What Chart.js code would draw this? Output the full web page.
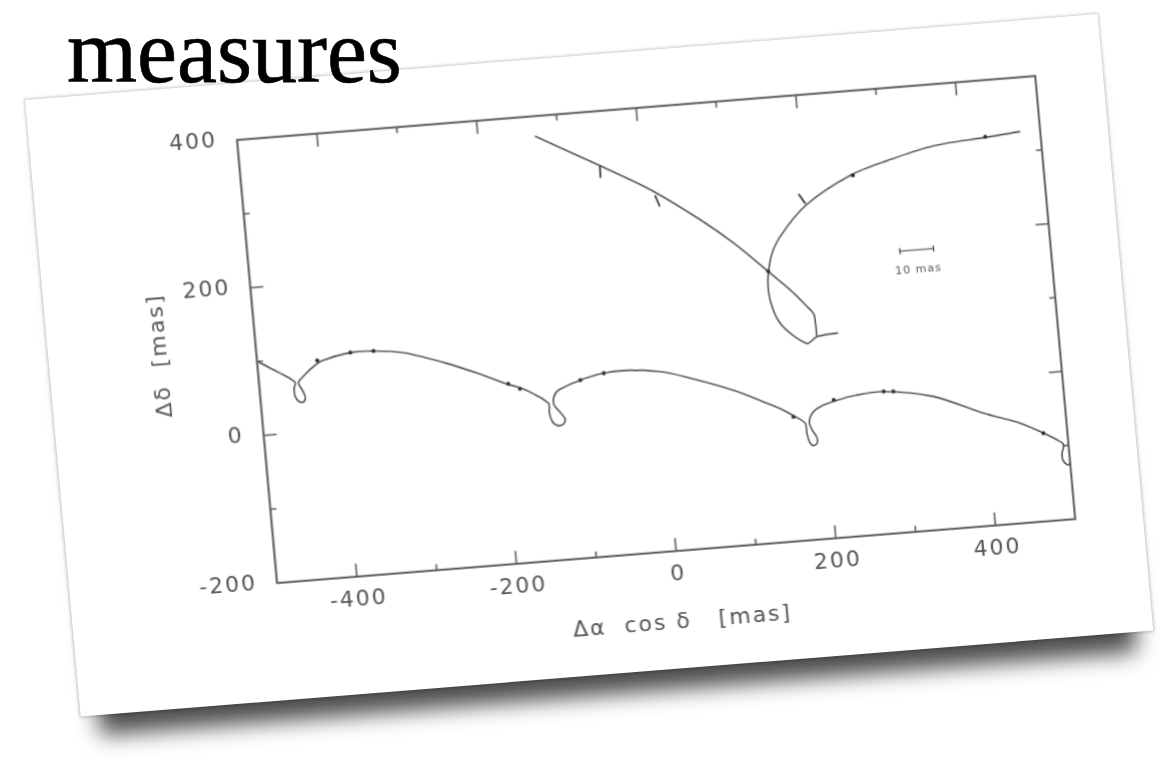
<!DOCTYPE html>
<html><head><meta charset="utf-8">
<script src="https://cdn.jsdelivr.net/npm/chart.js@4.4.1/dist/chart.umd.min.js"></script>
<style>
html,body{margin:0;padding:0;background:#fff;width:1160px;height:763px;overflow:hidden;}
#title{position:absolute;left:67px;top:7px;font:90px/1 "Liberation Serif","Times New Roman",serif;color:#000;-webkit-text-stroke:0.7px #000;z-index:2;white-space:nowrap;}
#card{position:absolute;left:25px;top:100px;width:1075px;height:618px;background:#fff;transform-origin:0 0;transform:matrix(0.9977,-0.08,0.0901,0.9977,0,0);box-shadow:0 0 3px 1px rgba(0,0,0,0.22),0 38px 22px -18px rgba(0,0,0,0.7);}
canvas{display:block;}
</style></head><body>
<div id="title">measures</div>
<div id="card"><canvas id="c" width="1075" height="618"></canvas></div>
<script>
// ---- data (mas) ----
const lowerX = [-510,-498,-474.5,-455,-457,-456.4,-452,-446,-444,-447,-451,-441,-432,-419,-383,-354,-317,-264,-220,-192,-175,-160,-142,-142.3,-139.6,-133.8,-126.3,-123.2,-128.6,-135.3,-135,-128,-100,-70,-37,0,29,89.5,129.5,145,163,175,175.8,177.8,182.3,187.6,187.7,182.9,180,186.5,200,219,240,276,337.5,398,442,470,486,494,491,491.6,497.4,503,505,515];
const lowerY = [108,99,83,68,59.5,48.6,41.4,41,47.5,57,67,78,86,94,102,101.5,96,77,57,43,36,27,12,0,-12.4,-18.3,-17.5,-11,-1,9,20,29,40,47,48,43,34,10,-11,-19.5,-32,-42,-54,-66.6,-73,-70,-62,-52,-41,-27.5,-19.5,-14,-10,-8,-20,-48,-65,-81,-91.5,-99,-110,-120.5,-126.4,-120,-105,-92];
const upperLineX = [-129,-51,8,67,106,146,171,190,198,199];
const upperLineY = [373,326,289,243,208,166,139,115,103,73];
const upperCurveX = [475,433,365.5,306,258,201.5,165,150,144,155,186,199,226];
const upperCurveY = [327,323,317,302,286,252,212,182,137,95,65,73,76];
const obsX = [-425,-383,-354,-190,-176,-100,-70,161,213,276,288,470,146,262,431];
const obsY = [95,102,101.5,43,35,40,47,-32,-14,-8,-9,-81,166,286,323.5];
const residTickX = [-52,16,196];
const residTickY = [318,273,260];
const scaleBarX = [312,354];
const scaleBarY = [179,179];
const scaleBarLabel = '10 mas';
const scaleBarLabelAt = [333,152];
const xTickValues = [-400,-300,-200,-100,0,100,200,300,400];
const xTickLabels = [-400,-200,0,200,400];
const yTickValues = [-100,0,100,200,300];
const yTickLabels = [-200,0,200,400];

const pts = (xs, ys) => xs.map((x, i) => ({x, y: ys[i]}));
const INK = '#3a3a3a';

const framePlugin = {
  id: 'frame',
  beforeDraw(chart) { chart.ctx.letterSpacing = '2px'; },
  afterDatasetsDraw(chart) {
    const {ctx, chartArea: {left, right, top, bottom}, scales: {x, y}} = chart;
    ctx.save();
    ctx.strokeStyle = '#5a5a5a';
    ctx.lineWidth = 2;
    ctx.strokeRect(left, top, right - left, bottom - top);
    ctx.lineWidth = 1.6;
    ctx.beginPath();
    xTickValues.forEach(v => {
      const p = x.getPixelForValue(v);
      const len = xTickLabels.includes(v) ? 13 : 6;
      ctx.moveTo(p, bottom); ctx.lineTo(p, bottom - len);
      ctx.moveTo(p, top); ctx.lineTo(p, top + len);
    });
    yTickValues.forEach(v => {
      const p = y.getPixelForValue(v);
      const len = yTickLabels.includes(v) ? 13 : 6;
      ctx.moveTo(left, p); ctx.lineTo(left + len, p);
      ctx.moveTo(right, p); ctx.lineTo(right - len, p);
    });
    ctx.stroke();
    ctx.letterSpacing = '1px';
    ctx.font = '11px "DejaVu Sans"';
    ctx.fillStyle = '#555';
    ctx.textAlign = 'center';
    ctx.textBaseline = 'middle';
    ctx.fillText(scaleBarLabel, x.getPixelForValue(scaleBarLabelAt[0]), y.getPixelForValue(scaleBarLabelAt[1]));
    ctx.restore();
  }
};

const tickFont = {family: 'DejaVu Sans', size: 22};
new Chart(document.getElementById('c'), {
  type: 'scatter',
  data: {
    datasets: [
      {data: pts(lowerX, lowerY), showLine: true, borderColor: INK, borderWidth: 1.4, pointRadius: 0, tension: 0.3},
      {data: pts(upperLineX, upperLineY), showLine: true, borderColor: INK, borderWidth: 1.4, pointRadius: 0, tension: 0.25},
      {data: pts(upperCurveX, upperCurveY), showLine: true, borderColor: INK, borderWidth: 1.4, pointRadius: 0, tension: 0.3},
      {data: pts(obsX, obsY), showLine: false, pointRadius: 2, backgroundColor: '#222', borderWidth: 0},
      {data: pts(residTickX, residTickY), showLine: false, pointStyle: 'line', pointRadius: 6, rotation: [92, 72, 60], borderColor: '#222', borderWidth: 1.6},
      {data: pts(scaleBarX, scaleBarY), showLine: true, borderColor: '#333', borderWidth: 1.2, pointStyle: 'line', pointRadius: 3, rotation: 90, pointBorderColor: '#333', pointBorderWidth: 1.2}
    ]
  },
  options: {
    responsive: false,
    animation: false,
    devicePixelRatio: 1,
    layout: {padding: {left: 87.4, top: 56.7, right: 67.6, bottom: 27.3}},
    plugins: {legend: {display: false}, tooltip: {enabled: false}},
    scales: {
      x: {
        type: 'linear', min: -500, max: 500,
        afterFit(s) { s.height = 90; },
        grid: {display: false, drawTicks: false},
        border: {display: false},
        ticks: {stepSize: 100, autoSkip: false, maxRotation: 0, minRotation: 0, padding: 10, color: '#555', font: tickFont,
          callback: v => xTickLabels.includes(v) ? String(v) : ''},
        title: {display: true, text: 'Δα  cos δ   [mas]', color: '#555', font: tickFont, padding: {top: 0, bottom: 5}}
      },
      y: {
        type: 'linear', min: -200, max: 400,
        afterFit(s) { s.width = 120; },
        grid: {display: false, drawTicks: false},
        border: {display: false},
        ticks: {stepSize: 100, autoSkip: false, padding: 20, color: '#555', font: tickFont,
          callback: v => yTickLabels.includes(v) ? String(v) : ''},
        title: {display: true, text: '   Δδ  [mas]', color: '#555', font: tickFont, padding: {top: 12, bottom: 0}}
      }
    }
  },
  plugins: [framePlugin]
});
</script>
</body></html>
